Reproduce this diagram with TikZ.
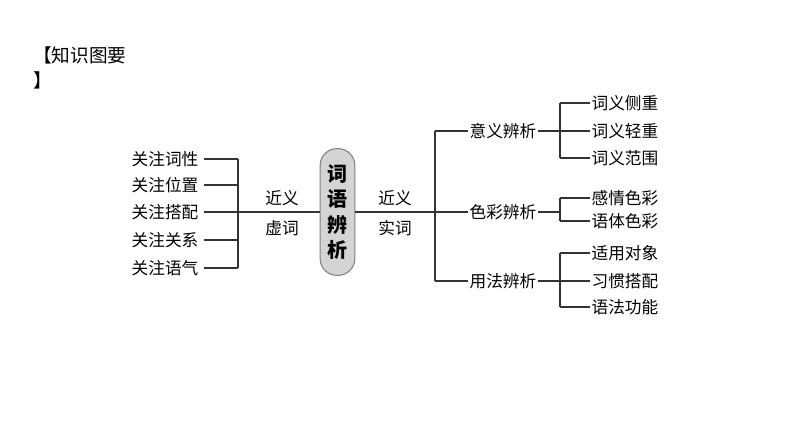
\documentclass[tikz,border=0pt]{standalone}
\usepackage{fontspec}
\setmainfont{Noto Sans CJK SC}
\begin{document}
\begin{tikzpicture}[x=0.75pt,y=-0.75pt,
  lbl/.style={inner sep=1pt,font=\fontsize{12.5}{14}\selectfont},
  ln/.style={line width=0.8pt,black!80}]
\useasboundingbox[fill=white] (0,0) rectangle (794,447);
\node[anchor=west,font=\fontsize{14}{16}\selectfont,inner sep=0] (t1) at (33,55) {【知识图要};
\node[anchor=west,font=\fontsize{14}{16}\selectfont,inner sep=0] (t2) at (33,80) {】};
\node[draw=gray,line width=0.8pt,fill=black!17,rounded corners=12.5pt,minimum width=26pt,minimum height=95pt,inner sep=0,align=center,font=\fontsize{15}{19}\selectfont\bfseries] (c) at (337.5,212) {词\\语\\辨\\析};
% left
\foreach \t/\y/\n in {关注词性/159/l1,关注位置/185/l2,关注搭配/212/l3,关注关系/240/l4,关注语气/268/l5}{
  \node[lbl,anchor=east] (\n) at (200,\y) {\t};
  \coordinate (\n e) at (238,\y);
  \draw[ln] (\n.east) ++(3pt,0) -- (\n e);
}
\draw[ln] (l1e) -- (l5e);
\draw[ln] (l3e) -- (c.west);
\node[lbl] (a1) at (282,198) {近义};
\node[lbl] (a2) at (282,228) {虚词};
\node[lbl] (b1) at (395,198) {近义};
\node[lbl] (b2) at (395,228) {实词};
% right
\coordinate (v1) at (435,131);
\coordinate (v2) at (435,212);
\coordinate (v3) at (435,281);
\draw[ln] (c.east) -- (v2);
\draw[ln] (v1) -- (v3);
\foreach \t/\y/\n in {意义辨析/131/m1,色彩辨析/212/m2,用法辨析/281/m3}{
  \node[lbl,anchor=west] (\n) at (468,\y) {\t};
  \draw[ln] (435,\y) -- (\n.west);
  \coordinate (\n v) at (560,\y);
  \draw[ln] (\n.east) -- (\n v);
}
\foreach \t/\y/\n/\p in {词义侧重/103/r1/m1,词义轻重/131/r2/m1,词义范围/158/r3/m1,感情色彩/198/r4/m2,语体色彩/221/r5/m2,适用对象/253/r6/m3,习惯搭配/281/r7/m3,语法功能/307/r8/m3}{
  \node[lbl,anchor=west] (\n) at (590,\y) {\t};
  \draw[ln] (560,\y) -- (\n.west);
}
\draw[ln] (560,103) -- (560,158);
\draw[ln] (560,198) -- (560,221);
\draw[ln] (560,253) -- (560,307);
\end{tikzpicture}
\end{document}
